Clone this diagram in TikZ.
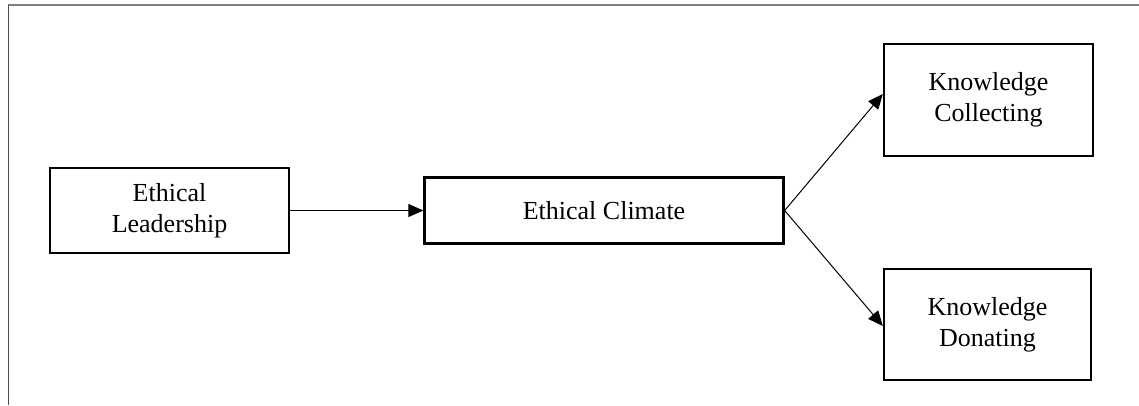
\documentclass[tikz,border=0pt]{standalone}
\usepackage{fontspec}
\setmainfont{Liberation Serif}
\usetikzlibrary{arrows.meta}
\begin{document}
\begin{tikzpicture}[x=1pt,y=-1pt,
  box/.style={draw=black,line width=2.3pt,rectangle,align=center,inner sep=0pt,
    font=\fontsize{26}{31}\selectfont},
  conn/.style={line width=1pt,-{Triangle[length=15pt,width=13pt]}}]
\useasboundingbox (0,0) rectangle (1139,405);
\draw[line width=1.5pt,color=gray] (8,5) -- (1139,5);
\draw[line width=1.5pt,color=black!70] (8.5,5) -- (8.5,405);
\node[box,minimum width=239pt,minimum height=85pt] (EL) at (169.5,210.5) {Ethical\\Leadership};
\node[box,minimum width=359pt,minimum height=66pt] (EC) at (604,210.5) {Ethical Climate};
\node[box,minimum width=209pt,minimum height=112pt] (KC) at (988.5,100) {Knowledge\\Collecting};
\node[box,minimum width=207pt,minimum height=111pt] (KD) at (987.5,324.5) {Knowledge\\Donating};
\draw[conn] (EL.east) -- (EC.west);
\draw[conn] (EC.east) -- ([yshift=6pt]KC.west);
\draw[conn] (EC.east) -- ([yshift=-1.5pt]KD.west);
\end{tikzpicture}
\end{document}
